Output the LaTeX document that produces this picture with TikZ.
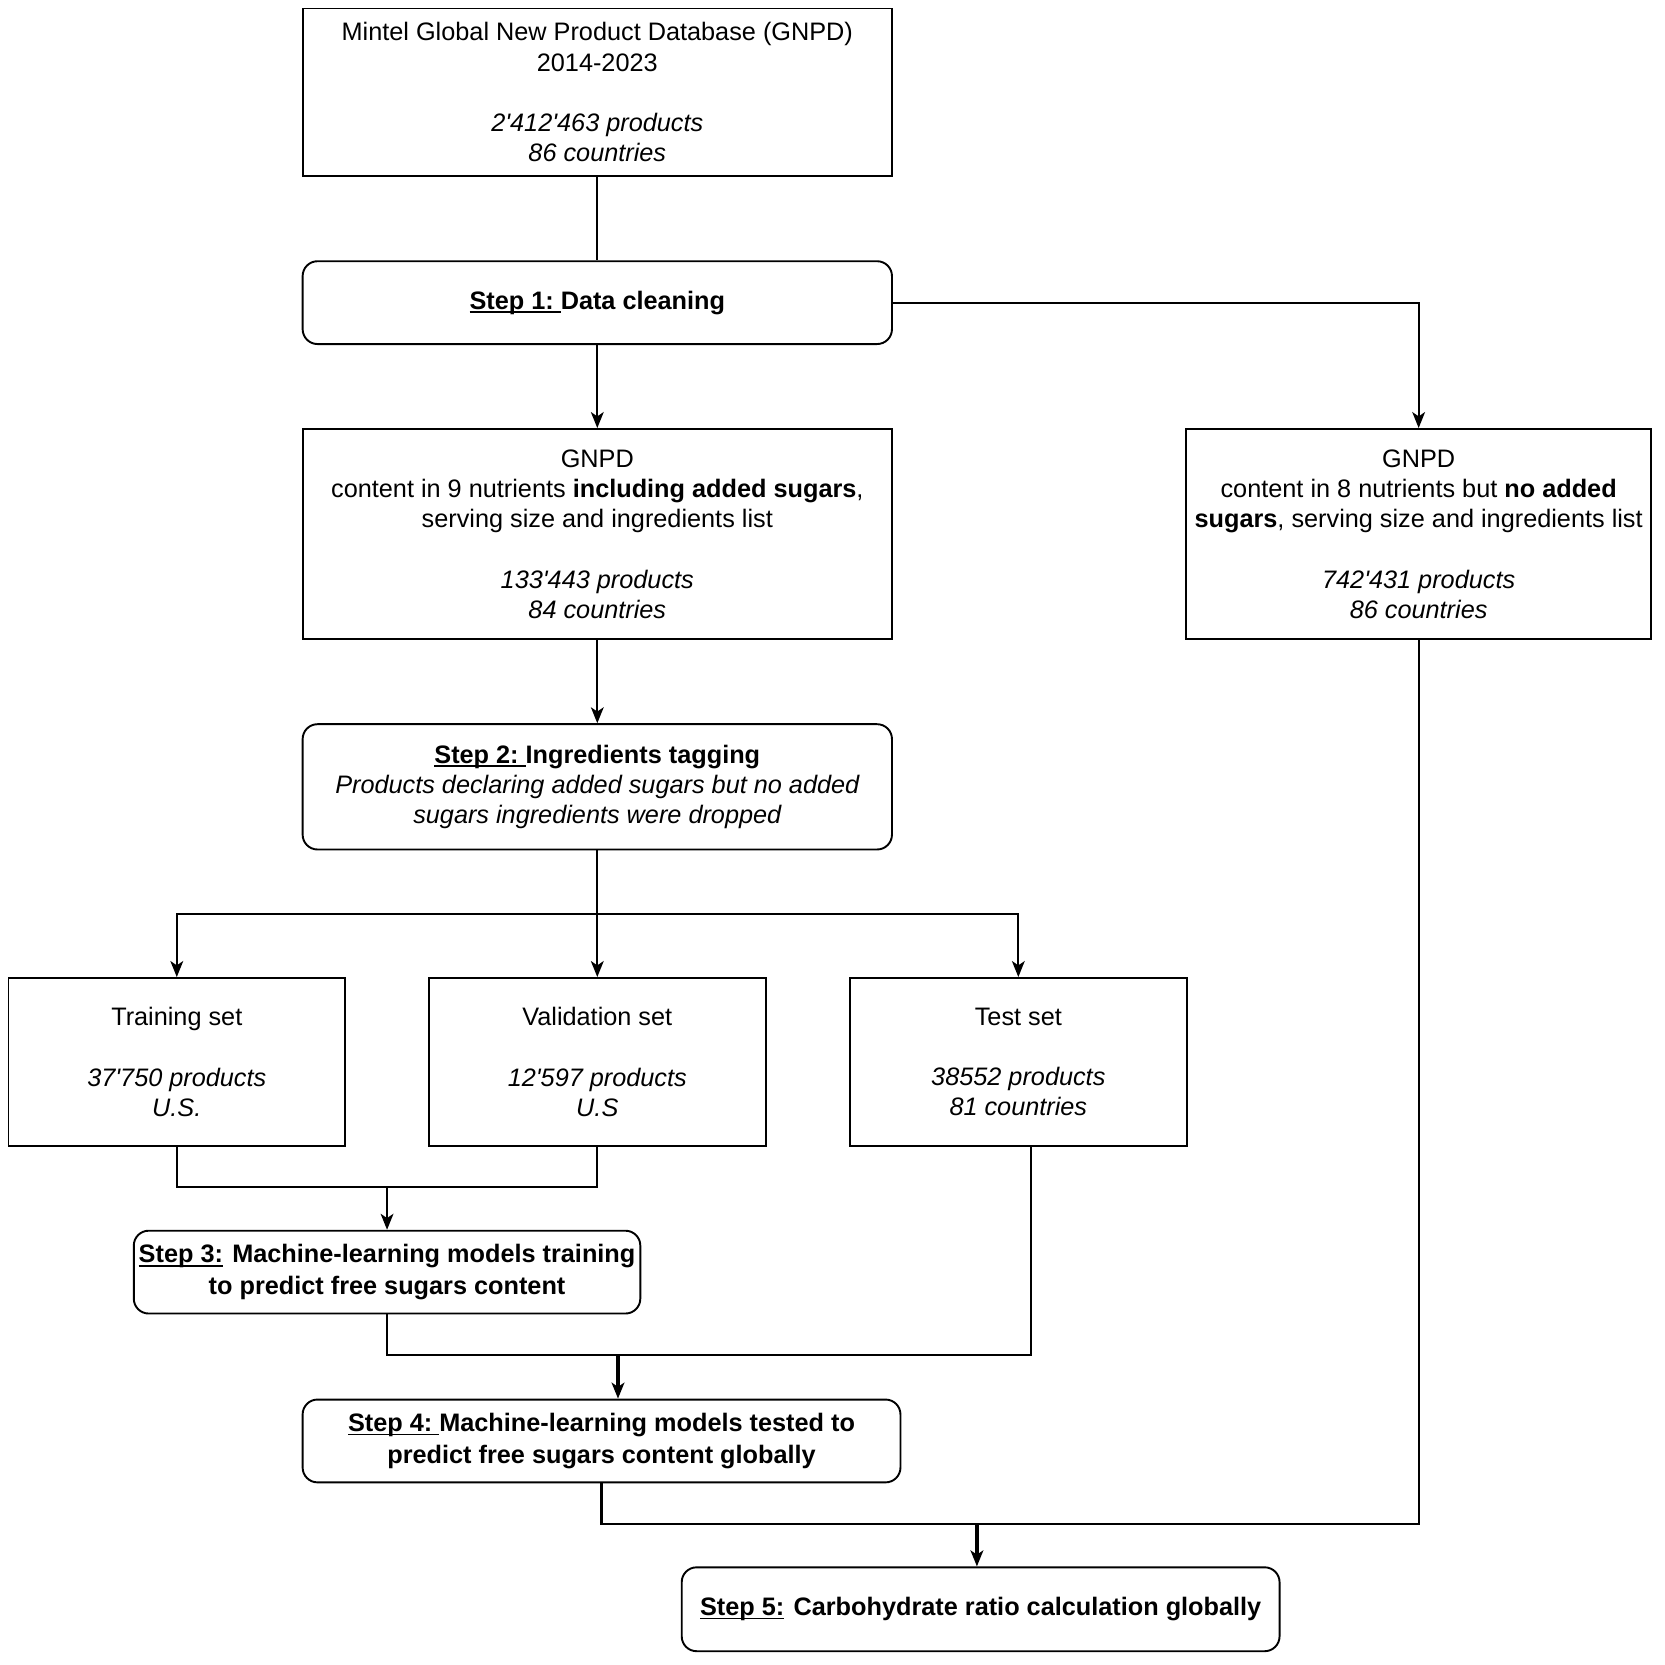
\documentclass[tikz,border=0pt]{standalone}
\usepackage{fontspec}
\setmainfont{Liberation Sans}[Ligatures=TeXOff]
\usetikzlibrary{arrows.meta,calc}
\newlength\ulw
\newcommand\myul[1]{\settowidth\ulw{#1}\rlap{\rule[-3.5pt]{\ulw}{1.8pt}}#1}
\begin{document}
\begin{tikzpicture}[x=1pt,y=-1pt,
  every node/.style={font=\fontsize{23.8}{28.5}\selectfont, align=center, inner sep=0pt},
  sqbox/.style={draw, line width=1.8pt, rectangle},
  rbox/.style={draw, line width=1.8pt, rectangle, rounded corners=14pt},
  boldtxt/.style={font=\fontsize{23.8}{29.5}\selectfont\bfseries},
  conn/.style={line width=2pt},
  arr/.style={line width=2pt, -{Stealth[length=15pt,width=12pt,inset=4pt]}},
  tarr/.style={line width=3.5pt, -{Stealth[length=15pt,width=12pt,inset=4pt]}}
]
\fill[white] (0,0) rectangle (1568,1568);
\useasboundingbox (0,0) rectangle (1568,1568);

\node[sqbox, minimum width=555pt, minimum height=158pt] (top) at (562.5,87)
  {Mintel Global New Product Database (GNPD)\\2014-2023\\[28.5pt]\itshape 2'412'463 products\\\itshape 86 countries};

\node[rbox, boldtxt, minimum width=555pt, minimum height=78pt] (s1) at (562.5,285)
  {\myul{Step 1:\ }Data cleaning};

\node[sqbox, minimum width=555pt, minimum height=198pt] (gl) at (562.5,503)
  {GNPD\\content in 9 nutrients \textbf{including added sugars},\\serving size and ingredients list\\[28.5pt]\itshape 133'443 products\\\itshape 84 countries};

\node[sqbox, minimum width=438pt, minimum height=198pt] (gr) at (1336,503)
  {GNPD\\content in 8 nutrients but \textbf{no added}\\\textbf{sugars}, serving size and ingredients list\\[28.5pt]\itshape 742'431 products\\\itshape 86 countries};

\node[rbox, minimum width=555pt, minimum height=118pt] (s2) at (562.5,741)
  {\textbf{\myul{Step 2:\ }Ingredients tagging}\\\itshape Products declaring added sugars but no added\\\itshape sugars ingredients were dropped};

\node[sqbox, minimum width=317pt, minimum height=158pt] (train) at (166.5,1000)
  {Training set\\[28.5pt]\itshape 37'750 products\\\itshape U.S.};
\node[sqbox, minimum width=317pt, minimum height=158pt] (val) at (562.5,1000)
  {Validation set\\[28.5pt]\itshape 12'597 products\\\itshape U.S};
\node[sqbox, minimum width=317pt, minimum height=158pt] (test) at (959,1000)
  {Test set\\[28.5pt]\itshape 38552 products\\\itshape 81 countries};

\node[rbox, boldtxt, minimum width=477pt, minimum height=78pt] (s3) at (364.5,1198)
  {\myul{Step 3:} Machine-learning models training\\to predict free sugars content};

\node[rbox, boldtxt, minimum width=563pt, minimum height=78pt] (s4) at (566.5,1357)
  {\myul{Step 4:\ }Machine-learning models tested to\\predict free sugars content globally};

\node[rbox, boldtxt, minimum width=563pt, minimum height=79pt] (s5) at (923.5,1515.5)
  {\myul{Step 5:} Carbohydrate ratio calculation globally};

% connectors
\draw[conn] (top.south) -- (s1.north);
\draw[arr] (s1.south) -- (gl.north);
\draw[arr] (s1.east) -| (gr.north);
\draw[arr] (gl.south) -- (s2.north);

\coordinate (b) at ([yshift=-60pt]s2.south);
\draw[conn] (s2.south) -- (b);
\draw[arr] (b) -| (train.north);
\draw[arr] (b) -- (val.north);
\draw[arr] (b) -| (test.north);

\coordinate (j1) at ([yshift=40pt]s3.north);
\draw[conn] (train.south) |- (j1) -| (val.south);
\draw[arr] (j1) -- (s3.north);

\coordinate (t4) at ([xshift=15.5pt]s4.north);
\coordinate (j2) at ([yshift=41pt]t4);
\draw[conn] (s3.south) |- (j2) -| ([xshift=12pt]test.south);
\draw[tarr] (j2) -- (t4);

\coordinate (t5) at ([xshift=-3.5pt]s5.north);
\coordinate (j3) at ([yshift=40pt]t5);
\draw[conn] (s4.south) |- (j3) -| (gr.south);
\draw[tarr] (j3) -- (t5);
\end{tikzpicture}
\end{document}
